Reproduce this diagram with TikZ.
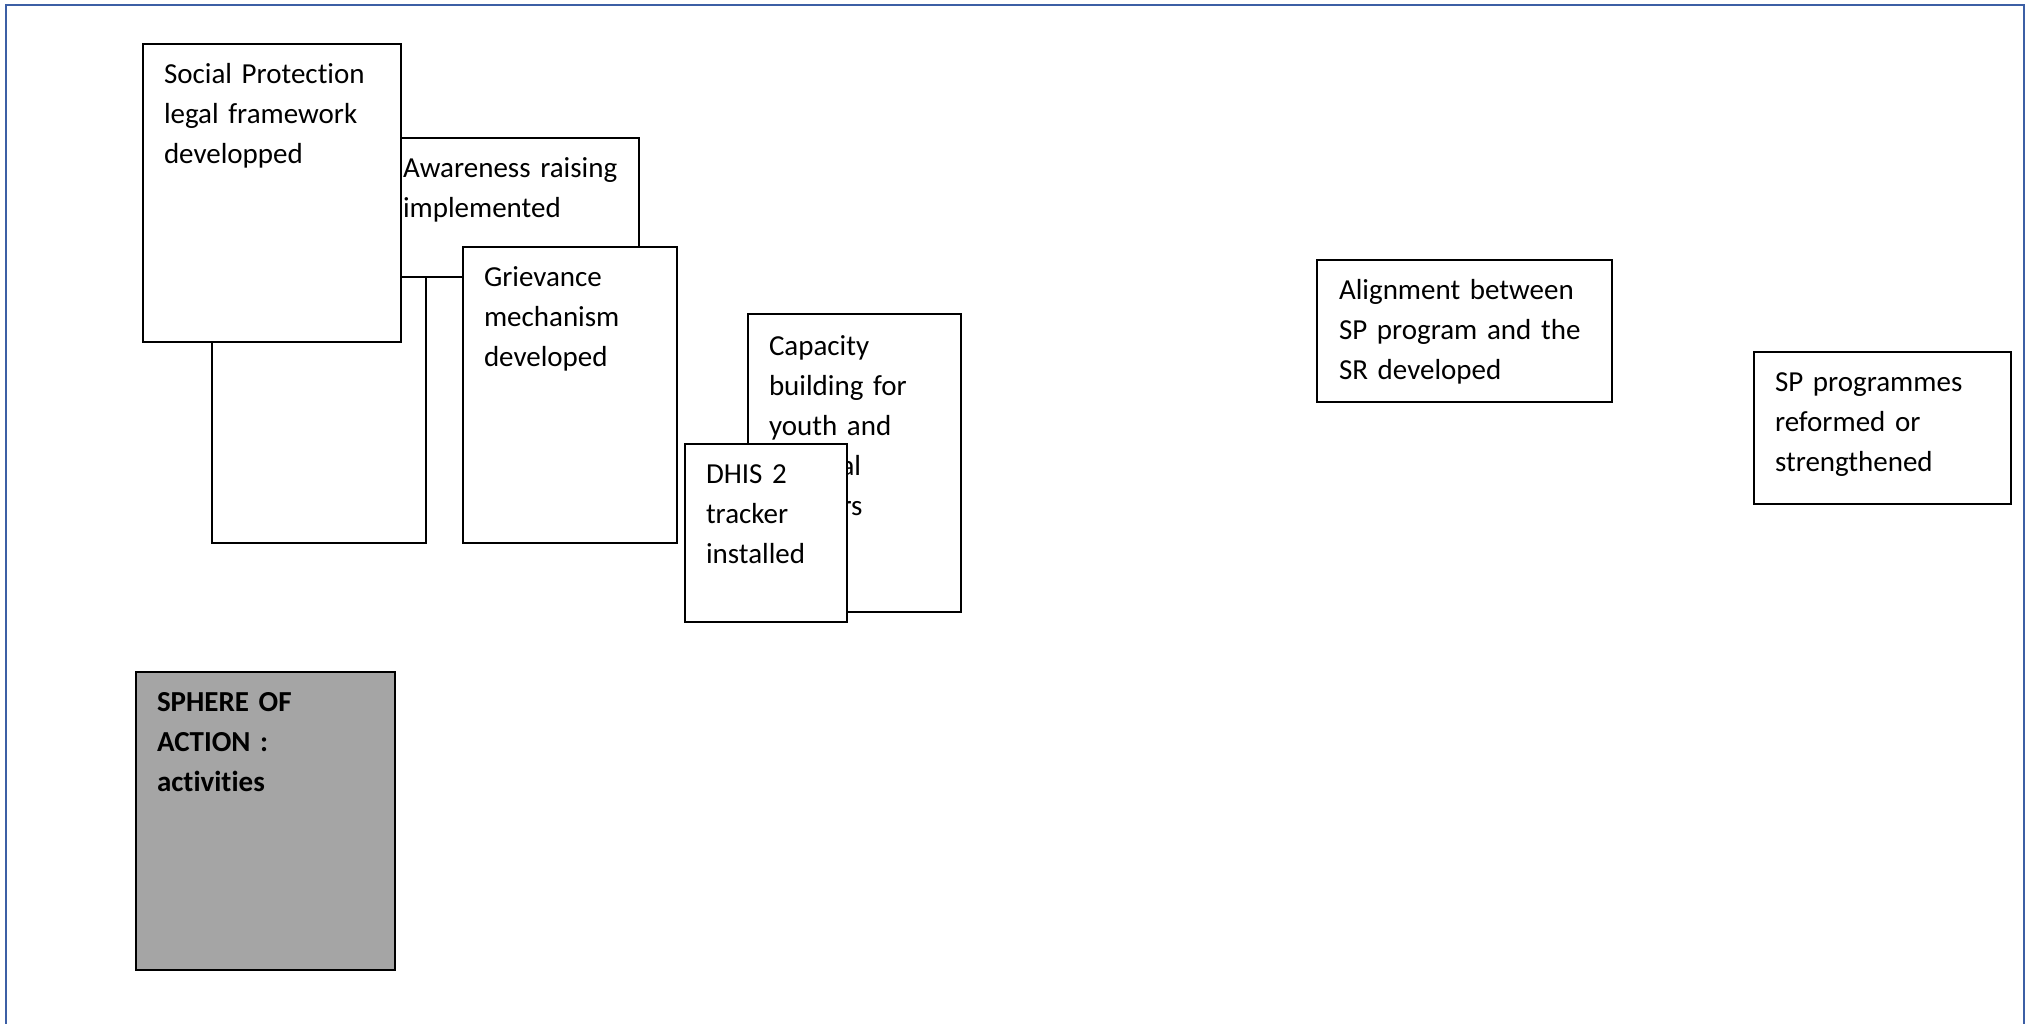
\documentclass[tikz,border=0pt]{standalone}
\usepackage{fontspec}
\setmainfont[Ligatures={NoCommon}]{Carlito}
\usetikzlibrary{calc}
\definecolor{framec}{RGB}{60,95,165}
\definecolor{spheregray}{RGB}{165,165,165}
\begin{document}
\begin{tikzpicture}[x=0.5pt,y=-0.5pt,
  box/.style={draw=black, line width=0.9pt, fill=white, inner sep=0pt, outer sep=0pt, anchor=north west},
  txt/.style={inner sep=0pt, outer sep=0pt, anchor=base west, align=left, text width=140pt, font=\fontsize{14.5}{20}\selectfont},
  frameline/.style={draw=framec, line width=1.2pt}]
\useasboundingbox (0,0) rectangle (2028,1023);
\draw[frameline] (6,1030) -- (6,5) -- (2024,5) -- (2024,1030);
% blank box (back)
\node[box, minimum width=107pt, minimum height=151.5pt] (blank) at (212,240) {};
% awareness
\node[box, minimum width=128.5pt, minimum height=69.5pt] (aware) at (382,138) {};
\node[txt] (aware-t) at ($(aware.north west)+(21,39)$) {Awareness raising\\implemented};
% social protection
\node[box, minimum width=129pt, minimum height=149pt] (sp) at (143,44) {};
\node[txt] (sp-t) at ($(sp.north west)+(21,39)$) {Social Protection\\legal framework\\developped};
% grievance
\node[box, minimum width=107pt, minimum height=148pt] (griev) at (463,247) {};
\node[txt] (griev-t) at ($(griev.north west)+(21,39)$) {Grievance\\mechanism\\developed};
% capacity
\node[box, minimum width=106.5pt, minimum height=149pt] (cap) at (748,314) {};
\node[txt] (cap-t) at ($(cap.north west)+(21,41)$) {Capacity\\building for\\youth and\\medical\\workers};
% DHIS
\node[box, minimum width=81pt, minimum height=89pt] (dhis) at (685,444) {};
\node[txt] (dhis-t) at ($(dhis.north west)+(21,39)$) {DHIS 2\\tracker\\installed};
% sphere of action
\node[box, fill=spheregray, minimum width=129.5pt, minimum height=149pt] (sphere) at (136,672) {};
\node[txt, font=\fontsize{14.5}{20}\selectfont\bfseries] (sphere-t) at ($(sphere.north west)+(21,39)$) {SPHERE OF\\ACTION :\\activities};
% alignment
\node[box, minimum width=147.5pt, minimum height=71pt] (align) at (1317,260) {};
\node[txt] (align-t) at ($(align.north west)+(22,39)$) {Alignment between\\SP program and the\\SR developed};
% SP programmes
\node[box, minimum width=128.5pt, minimum height=76pt] (spprog) at (1754,352) {};
\node[txt] (spprog-t) at ($(spprog.north west)+(21,39)$) {SP programmes\\reformed or\\strengthened};
\end{tikzpicture}
\end{document}
